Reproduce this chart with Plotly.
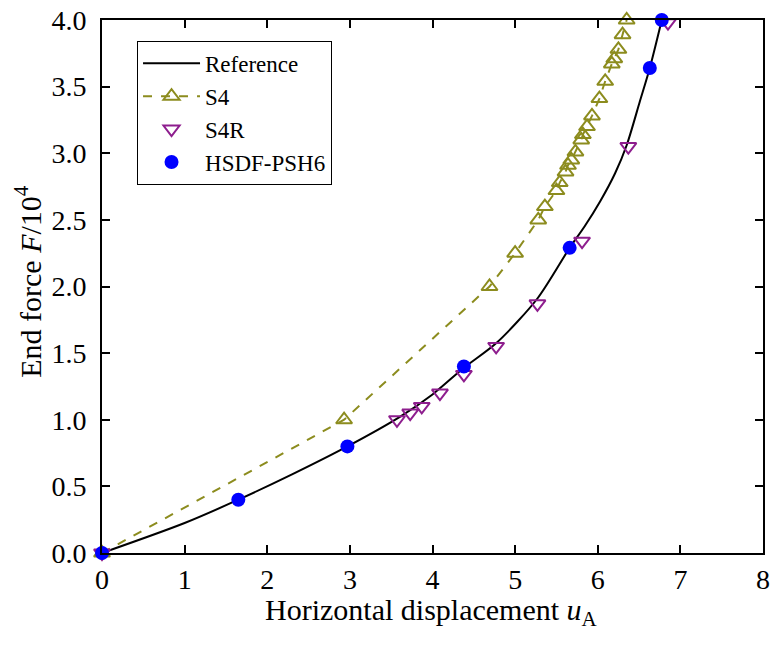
import plotly.graph_objects as go

# Reference curve
ref_x = [0, 1.0, 1.65, 2.3, 2.97, 3.6, 4.0, 4.38, 4.78, 5.27, 5.66, 5.84, 6.03, 6.21, 6.35, 6.51, 6.63, 6.775]
ref_y = [0, 0.225, 0.40, 0.59, 0.80, 1.02, 1.19, 1.39, 1.58, 1.91, 2.29, 2.45, 2.64, 2.85, 3.06, 3.39, 3.64, 4.0]

# S4
s4_x = [0, 2.93, 4.69, 5.0, 5.28, 5.36, 5.50, 5.54, 5.61, 5.64, 5.68, 5.73, 5.80, 5.82, 5.87,
        5.93, 6.02, 6.09, 6.17, 6.20, 6.25, 6.30, 6.35]
s4_y = [0, 1.0, 2.0, 2.25, 2.50, 2.60, 2.72, 2.78, 2.86, 2.91, 2.95, 3.01, 3.10, 3.14, 3.20,
        3.28, 3.41, 3.54, 3.67, 3.71, 3.78, 3.89, 4.0]

# S4R
s4r_x = [0, 3.57, 3.73, 3.87, 4.09, 4.38, 4.77, 5.27, 5.81, 6.37, 6.85]
s4r_y = [0, 1.0, 1.05, 1.10, 1.20, 1.34, 1.55, 1.87, 2.34, 3.05, 3.98]

# HSDF-PSH6
h_x = [0, 1.65, 2.97, 4.38, 5.66, 6.63, 6.775]
h_y = [0, 0.40, 0.80, 1.40, 2.29, 3.64, 4.0]

x_ticks = [0, 1, 2, 3, 4, 5, 6, 7, 8]
y_ticks = [0.0, 0.5, 1.0, 1.5, 2.0, 2.5, 3.0, 3.5, 4.0]

x_title = "Horizontal displacement <i>u</i><sub>A</sub>"
y_title = "End force <i>F</i>/10<sup>4</sup>"

FONT = "Liberation Serif"
OLIVE = "#8C8C1E"
PURPLE = "#8E1E8E"

fig = go.Figure()
fig.add_trace(go.Scatter(x=ref_x, y=ref_y, mode="lines", name="Reference",
                         line=dict(color="black", width=2, shape="spline", smoothing=0.8),
                         cliponaxis=False))
fig.add_trace(go.Scatter(x=s4_x, y=s4_y, mode="lines+markers", name="S4",
                         line=dict(color=OLIVE, width=2, dash="dash"),
                         marker=dict(symbol="triangle-up-open", size=14, color=OLIVE,
                                     line=dict(width=2, color=OLIVE)),
                         cliponaxis=False))
fig.add_trace(go.Scatter(x=s4r_x, y=s4r_y, mode="markers", name="S4R",
                         marker=dict(symbol="triangle-down-open", size=14, color=PURPLE,
                                     line=dict(width=2, color=PURPLE)),
                         cliponaxis=False))
fig.add_trace(go.Scatter(x=h_x, y=h_y, mode="markers", name="HSDF-PSH6",
                         marker=dict(symbol="circle", size=14, color="#0000FF"),
                         cliponaxis=False))

axis_common = dict(showline=True, linecolor="black", linewidth=2, mirror="ticks",
                   ticks="inside", ticklen=8, tickwidth=2, tickcolor="black",
                   showgrid=False, zeroline=False, automargin=False,
                   ticklabeloverflow="allow",
                   tickfont=dict(family=FONT, size=28, color="black"))

fig.update_xaxes(range=[0, 8], tickvals=x_ticks, ticktext=[str(v) for v in x_ticks],
                 ticklabelstandoff=0, **axis_common)
fig.update_yaxes(range=[0, 4], tickvals=y_ticks, ticktext=[f"{v:.1f}" for v in y_ticks],
                 ticklabelstandoff=8, **axis_common)

fig.add_annotation(text=x_title, xref="paper", yref="paper", x=0.498, y=-0.111,
                   xanchor="center", yanchor="middle", showarrow=False,
                   font=dict(family=FONT, size=30, color="black"))
fig.add_annotation(text=y_title, xref="paper", yref="paper", x=-0.111, y=0.51,
                   xanchor="center", yanchor="middle", showarrow=False, textangle=-90,
                   font=dict(family=FONT, size=30, color="black"))

fig.update_layout(
    width=784, height=648,
    margin=dict(l=102, r=21, t=20, b=95),
    plot_bgcolor="white", paper_bgcolor="white",
    font=dict(family=FONT, color="black"),
    legend=dict(x=0.053, y=0.961, xanchor="left", yanchor="top",
                bordercolor="black", borderwidth=1, bgcolor="white",
                font=dict(family=FONT, size=23, color="black"),
                tracegroupgap=0, itemwidth=57),
)

fig.write_html("out.html", post_script="document.body.style.margin='0px';",
               config={"displayModeBar": False})
